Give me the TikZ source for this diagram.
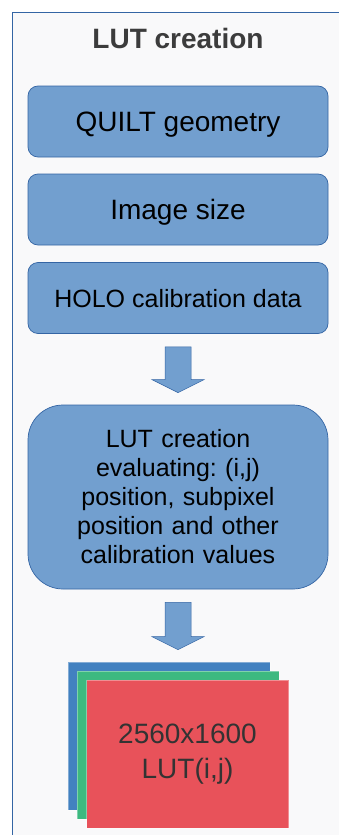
\documentclass[tikz,border=0pt]{standalone}
\usepackage{fontspec}
\setmainfont{Liberation Sans}
\usetikzlibrary{calc}
\frenchspacing

\definecolor{panelbg}{HTML}{F9F9FA}
\definecolor{panelline}{HTML}{3465A4}
\definecolor{boxfill}{HTML}{729FCF}
\definecolor{boxline}{HTML}{3465A4}
\definecolor{titlegray}{HTML}{3C3C3C}
\definecolor{labelgray}{HTML}{333333}
\definecolor{layerblue}{HTML}{4281C0}
\definecolor{layergreen}{HTML}{3DB980}
\definecolor{layerred}{HTML}{E8525A}

\tikzset{
  stepbox/.style={rectangle, rounded corners=10pt, minimum width=300pt,
    minimum height=71pt, fill=boxfill, draw=boxline, line width=0.7pt,
    text=black, inner sep=0pt, text depth=0pt,
    font=\fontsize{28}{34}\selectfont},
  smallbox/.style={stepbox, font=\fontsize{25}{29}\selectfont},
  bigbox/.style={stepbox, rounded corners=35pt, minimum height=184pt,
    text width=280pt, align=center, text depth=, font=\fontsize{25}{29}\selectfont},
  layer/.style={rectangle, minimum width=202pt, minimum height=148pt,
    inner sep=0pt, draw=white, draw opacity=0.35, line width=0.6pt},
  blockarrow/.style={fill=boxfill, draw=boxline, line width=0.5pt, line join=miter}
}

% block arrow pointing down from the bottom of #1 to just above #2
\newcommand\flowarrow[2]{%
  \path[blockarrow]
    ($(#1.south)+(-13,13)$) -- ($(#1.south)+(13,13)$)
    -- ($(#1.south |- #2.north)+(13,-25)$) -- ($(#1.south |- #2.north)+(26,-25)$)
    -- ($(#1.south |- #2.north)+(0,-12)$)
    -- ($(#1.south |- #2.north)+(-26,-25)$) -- ($(#1.south |- #2.north)+(-13,-25)$)
    -- cycle;}

\begin{document}
\begin{tikzpicture}[x=1pt, y=-1pt]
  \useasboundingbox (0,0) rectangle (338,835);

  % panel, open to the right and bottom
  \fill[panelbg] (12,12) rectangle (360,860);
  \draw[panelline, line width=0.8pt] (12,860) -- (12,12) -- (360,12);

  \node[font=\bfseries\fontsize{28}{34}\selectfont, text=titlegray] (title) at (178,38) {LUT creation};

  % input boxes
  \node[stepbox] (quilt) at (178,121.5) {QUILT geometry};
  \node[stepbox] (imgsize) at (178,209.5) {Image size};
  \node[smallbox] (holo) at (178,298) {HOLO calibration data};

  % processing step
  \node[bigbox] (lut) at (178,497) {LUT creation\\ evaluating: (i,j)\\ position, subpixel\\ position and other\\ calibration values};

  % stacked output layers
  \node[layer, fill=layerblue] (lblue) at (169,736) {};
  \node[layer, fill=layergreen] (lgreen) at (178,745) {};
  \node[layer, fill=layerred, text=labelgray, align=center,
        font=\fontsize{28}{35}\selectfont] (lred) at (187.5,754) {2560x1600\\LUT(i,j)};

  \flowarrow{holo}{lut}
  \flowarrow{lut}{lblue}
\end{tikzpicture}
\end{document}
